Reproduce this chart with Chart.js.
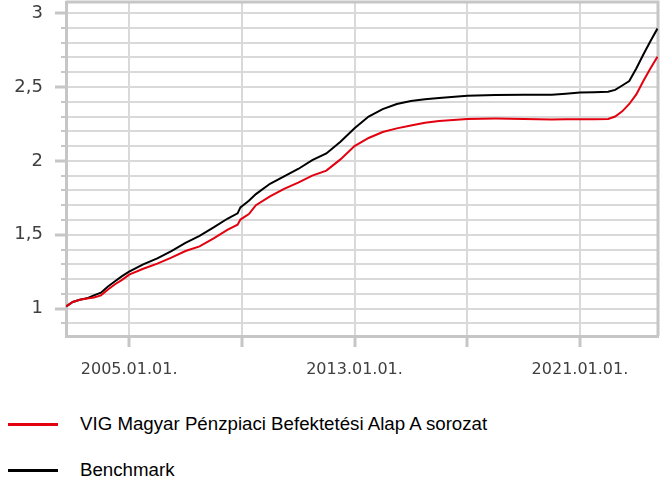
<!DOCTYPE html>
<html>
<head>
<meta charset="utf-8">
<script src="https://cdn.jsdelivr.net/npm/chart.js@4/dist/chart.umd.min.js"></script>
<style>
  body { margin: 0; background: #fff; width: 664px; height: 485px; position: relative; overflow: hidden; }
  #chart { position: absolute; left: 0; top: 0; }
  #legend { position: absolute; left: 0; top: 404px; font-family: 'Liberation Sans', Arial, sans-serif; font-size: 18.7px; color: #000; }
  .legend-item { position: relative; height: 46px; }
  .legend-swatch { position: absolute; left: 8px; top: 19px; width: 50px; height: 3px; }
  .legend-text { position: absolute; left: 80px; top: 9px; white-space: nowrap; }
</style>
</head>
<body>
<canvas id="chart" width="664" height="395"></canvas>
<div id="legend"></div>
<script>
// time axis in decimal years
const years = [2002.77, 2003.0, 2003.25, 2003.5, 2003.75, 2004.0, 2004.25, 2004.5, 2004.75,
  2005.0, 2005.5, 2006.0, 2006.5, 2007.0, 2007.5, 2008.0, 2008.5, 2008.85, 2008.95,
  2009.25, 2009.5, 2010.0, 2010.5, 2011.0, 2011.5, 2012.0, 2012.5, 2013.0, 2013.5,
  2014.0, 2014.5, 2015.0, 2015.5, 2016.0, 2017.0, 2018.0, 2019.0, 2020.0, 2020.5,
  2021.0, 2021.5, 2022.0, 2022.25, 2022.5, 2022.75, 2023.0, 2023.25, 2023.5, 2023.75];

const fundValues = [1.016, 1.045, 1.06, 1.068, 1.075, 1.09, 1.13, 1.165, 1.195,
  1.23, 1.27, 1.305, 1.345, 1.39, 1.421, 1.475, 1.535, 1.568, 1.603,
  1.64, 1.70, 1.76, 1.81, 1.853, 1.90, 1.934, 2.01, 2.10, 2.155,
  2.195, 2.22, 2.24, 2.258, 2.27, 2.284, 2.286, 2.284, 2.28, 2.282,
  2.282, 2.281, 2.283, 2.30, 2.335, 2.385, 2.45, 2.54, 2.625, 2.705];

const benchmarkValues = [1.016, 1.045, 1.06, 1.07, 1.09, 1.108, 1.15, 1.185, 1.22,
  1.25, 1.30, 1.34, 1.39, 1.445, 1.493, 1.55, 1.61, 1.645, 1.685,
  1.73, 1.775, 1.845, 1.895, 1.945, 2.005, 2.05, 2.13, 2.22, 2.30,
  2.35, 2.385, 2.405, 2.417, 2.425, 2.441, 2.446, 2.447, 2.448, 2.455,
  2.462, 2.465, 2.468, 2.48, 2.51, 2.54, 2.625, 2.72, 2.81, 2.895];

const seriesNames = ['VIG Magyar Pénzpiaci Befektetési Alap A sorozat', 'Benchmark'];
const seriesColors = ['#e3000f', '#000000'];

const xTickYears = [2005, 2009, 2013, 2017, 2021];
const xTickLabels = ['2005.01.01.', '', '2013.01.01.', '', '2021.01.01.'];
const yTicks = [0.9, 1, 1.1, 1.2, 1.3, 1.4, 1.5, 1.6, 1.7, 1.8, 1.9, 2, 2.1, 2.2, 2.3, 2.4, 2.5, 2.6, 2.7, 2.8, 2.9, 3];
const yLabelTicks = [1, 1.5, 2, 2.5, 3];

const gridColor = '#d9d9d9';
const axisColor = '#c6c6c6';

function isMajorY(v) {
  return yLabelTicks.some((t) => Math.abs(t - v) < 1e-6);
}

const framePlugin = {
  id: 'frame',
  beforeDatasetsDraw(chart) {
    const { ctx, chartArea } = chart;
    ctx.save();
    ctx.strokeStyle = axisColor;
    ctx.lineWidth = 3;
    ctx.beginPath();
    ctx.moveTo(chartArea.left, chartArea.top);
    ctx.lineTo(chartArea.right, chartArea.top);
    ctx.lineTo(chartArea.right, chartArea.bottom);
    ctx.stroke();
    // short minor ticks on the value axis
    const yScale = chart.scales.y;
    ctx.lineWidth = 2;
    yTicks.filter((v) => !isMajorY(v)).forEach((v) => {
      const py = Math.round(yScale.getPixelForValue(v));
      ctx.beginPath();
      ctx.moveTo(chartArea.left - 5, py);
      ctx.lineTo(chartArea.left, py);
      ctx.stroke();
    });
    ctx.restore();
  }
};

const datasets = [fundValues, benchmarkValues].map((values, i) => ({
  label: seriesNames[i],
  data: years.map((yr, j) => ({ x: yr, y: values[j] })),
  borderColor: seriesColors[i],
  borderWidth: 2,
  pointRadius: 0,
  tension: 0,
  fill: false
}));

const chart = new Chart(document.getElementById('chart').getContext('2d'), {
  type: 'line',
  data: { datasets: datasets },
  options: {
    responsive: false,
    animation: false,
    layout: { padding: { left: 0, right: 6, top: 2, bottom: 0 } },
    plugins: { legend: { display: false }, tooltip: { enabled: false } },
    scales: {
      x: {
        type: 'linear',
        min: 2002.76,
        max: 2023.77,
        afterBuildTicks: (scale) => { scale.ticks = xTickYears.map((v) => ({ value: v })); },
        afterFit: (scale) => { scale.height = 59; scale.paddingLeft = 0; scale.paddingRight = 0; },
        ticks: {
          autoSkip: false,
          maxRotation: 0,
          padding: 13,
          color: '#404040',
          font: { family: 'DejaVu Sans', size: 16 },
          callback: (value) => xTickLabels[xTickYears.indexOf(value)] || ''
        },
        grid: { color: gridColor, lineWidth: 2, tickLength: 11, tickColor: axisColor, tickWidth: 3 },
        border: { color: axisColor, width: 3 }
      },
      y: {
        min: 0.815,
        max: 3.075,
        afterBuildTicks: (scale) => { scale.ticks = yTicks.map((v) => ({ value: v })); },
        afterFit: (scale) => { scale.width = 66; scale.paddingTop = 0; scale.paddingBottom = 0; },
        ticks: {
          autoSkip: false,
          padding: 12,
          color: '#404040',
          font: { family: 'DejaVu Sans', size: 18 },
          callback: (value) => isMajorY(value) ? String(Math.round(value * 10) / 10).replace('.', ',') : ''
        },
        grid: {
          color: gridColor,
          lineWidth: 2,
          tickLength: 11,
          tickWidth: 3,
          tickColor: (ctx) => isMajorY(ctx.tick ? ctx.tick.value : 0) ? axisColor : 'rgba(0,0,0,0)'
        },
        border: { color: axisColor, width: 3 }
      }
    }
  },
  plugins: [framePlugin]
});

document.getElementById('legend').innerHTML = chart.data.datasets.map((ds) => `
  <div class="legend-item">
    <div class="legend-swatch" style="background:${ds.borderColor}"></div>
    <div class="legend-text">${ds.label}</div>
  </div>
`).join('');
</script>
</body>
</html>
